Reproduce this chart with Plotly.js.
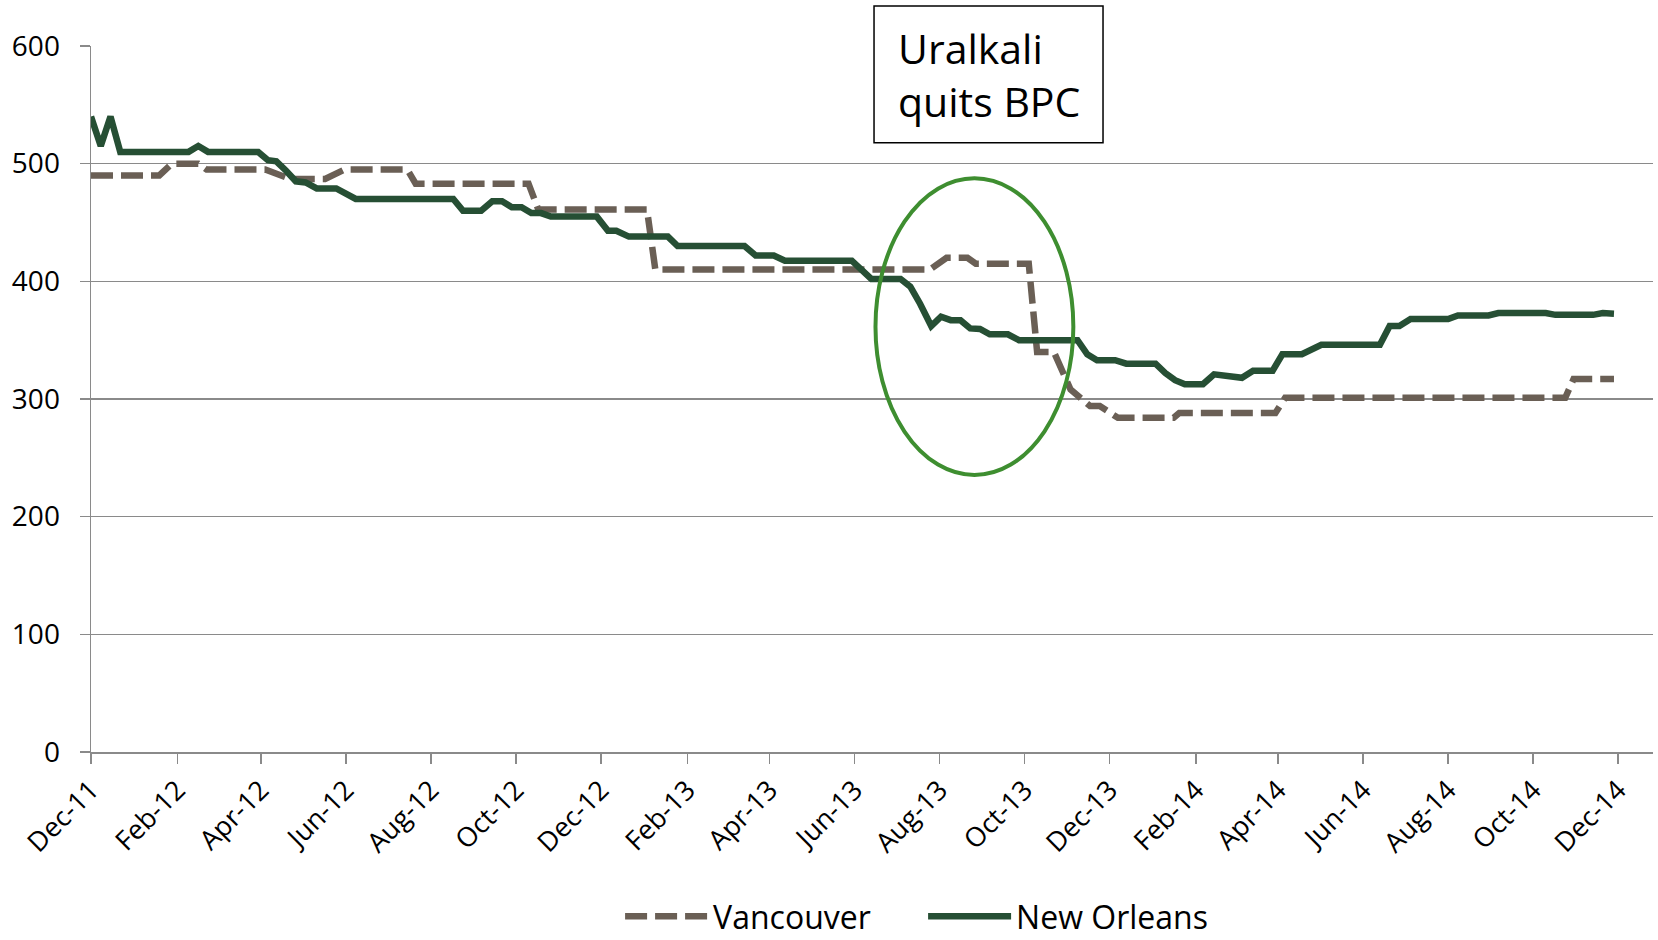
<!DOCTYPE html>
<html>
<head>
<meta charset="utf-8">
<script src="https://cdn.plot.ly/plotly-3.0.1.min.js"></script>
<style>
  html, body { margin: 0; padding: 0; background: #ffffff; }
  #chart { width: 1658px; height: 940px; }
</style>
</head>
<body>
<div id="chart"></div>
<script>
// ---- Data ----
const seriesNames = ["Vancouver", "New Orleans"];

const vancouverDates = [
  "2011-12-01", "2012-01-19", "2012-01-28", "2012-02-16", "2012-02-22",
  "2012-04-04", "2012-04-22", "2012-05-17", "2012-05-31", "2012-07-15",
  "2012-07-21", "2012-10-10", "2012-10-17", "2013-01-03", "2013-01-09",
  "2013-07-25", "2013-08-06", "2013-08-21", "2013-08-27", "2013-10-04",
  "2013-10-10", "2013-10-22", "2013-11-03", "2013-11-17", "2013-11-24",
  "2013-12-07", "2014-01-16", "2014-01-20", "2014-03-30", "2014-04-06",
  "2014-10-24", "2014-10-30", "2014-11-28"
];
const vancouverValues = [
  490, 490, 500, 500, 495,
  495, 487, 487, 495, 495,
  483, 483, 461, 461, 410,
  410, 420, 420, 415, 415,
  340, 340, 308, 294, 294,
  284, 284, 288, 288, 301,
  301, 317, 317
];

const newOrleansDates = [
  "2011-12-01", "2011-12-08", "2011-12-15", "2011-12-22", "2012-02-09",
  "2012-02-16", "2012-02-23", "2012-03-30", "2012-04-06", "2012-04-12",
  "2012-04-19", "2012-04-26", "2012-05-03", "2012-05-11", "2012-05-25",
  "2012-06-08", "2012-08-17", "2012-08-24", "2012-09-06", "2012-09-14",
  "2012-09-21", "2012-09-28", "2012-10-05", "2012-10-12", "2012-10-19",
  "2012-10-26", "2012-11-28", "2012-12-06", "2012-12-12", "2012-12-21",
  "2013-01-18", "2013-01-25", "2013-03-14", "2013-03-22", "2013-04-04",
  "2013-04-12", "2013-05-30", "2013-06-13", "2013-07-04", "2013-07-11",
  "2013-07-18", "2013-07-26", "2013-08-02", "2013-08-09", "2013-08-16",
  "2013-08-23", "2013-08-30", "2013-09-06", "2013-09-19", "2013-09-27",
  "2013-11-08", "2013-11-15", "2013-11-22", "2013-12-05", "2013-12-13",
  "2014-01-03", "2014-01-10", "2014-01-17", "2014-01-24", "2014-02-06",
  "2014-02-14", "2014-03-06", "2014-03-14", "2014-03-28", "2014-04-04",
  "2014-04-18", "2014-05-02", "2014-06-13", "2014-06-20", "2014-06-27",
  "2014-07-05", "2014-08-01", "2014-08-08", "2014-08-30", "2014-09-06",
  "2014-10-10", "2014-10-17", "2014-11-13", "2014-11-20", "2014-11-28"
];
const newOrleansValues = [
  540, 515, 540, 510, 510,
  515, 510, 510, 503, 502,
  494, 485, 484, 479, 479,
  470, 470, 460, 460, 468,
  468, 463, 463, 458, 458,
  455, 455, 443, 443, 438,
  438, 430, 430, 422, 422,
  417.5, 417.5, 402, 402, 395.5,
  381, 362, 370, 367, 367,
  360, 359.5, 355, 355, 350,
  350, 338, 333, 333, 330,
  330, 322, 316, 312.5, 312.5,
  321, 318, 324, 324, 338,
  338, 346, 346, 362, 362,
  368, 368, 371, 371, 373,
  373, 371.5, 371.5, 373, 372.5
];

const yTickValues = [0, 100, 200, 300, 400, 500, 600];
const annotationText = "Uralkali<br>quits BPC";
const highlightPeriod = ["2013-06-16", "2013-11-05"];
const highlightValues = [235.4, 487.6];

// ---- Styles ----
const FONT = "'Open Sans', 'Liberation Sans', sans-serif";
const GRID = "#8a8a8a";

const traces = [
  {
    type: "scatter", mode: "lines", name: seriesNames[0],
    x: vancouverDates, y: vancouverValues,
    line: { color: "#6a5f55", width: 6.5, dash: "22px,8px" },
    hoverinfo: "skip"
  },
  {
    type: "scatter", mode: "lines", name: seriesNames[1],
    x: newOrleansDates, y: newOrleansValues,
    line: { color: "#264f34", width: 6.5 },
    hoverinfo: "skip"
  }
];

const layout = {
  width: 1658, height: 940,
  margin: { l: 91, r: 5, t: 46, b: 188, pad: 0, autoexpand: false },
  paper_bgcolor: "#ffffff", plot_bgcolor: "#ffffff",
  font: { family: FONT, color: "#000000" },
  showlegend: true,
  legend: {
    orientation: "h", xref: "container", yref: "container",
    x: 0.374, xanchor: "left", y: 0.025, yanchor: "middle",
    font: { family: FONT, size: 32, color: "#000000" },
    itemwidth: 83, entrywidth: 205, entrywidthmode: "pixels",
    traceorder: "normal", bgcolor: "rgba(0,0,0,0)"
  },
  xaxis: {
    type: "date",
    range: ["2011-12-01", "2014-12-26"],
    tick0: "2011-12-01", dtick: "M2", tickformat: "%b-%y",
    tickangle: -45, automargin: false,
    ticks: "outside", ticklen: 10, tickwidth: 1.5, tickcolor: GRID,
    showline: true, linecolor: GRID, linewidth: 1.5,
    showgrid: false, zeroline: false,
    tickfont: { family: FONT, size: 27, color: "#000000" },
    fixedrange: true
  },
  yaxis: {
    range: [0, 600], automargin: false,
    tickvals: yTickValues,
    ticks: "outside", ticklen: 10, tickwidth: 1.5, tickcolor: GRID,
    showline: true, linecolor: GRID, linewidth: 1.5,
    showgrid: true, gridcolor: GRID, gridwidth: 1.5,
    zeroline: false,
    ticklabelstandoff: 14,
    tickfont: { family: FONT, size: 28, color: "#000000" },
    fixedrange: true
  },
  shapes: [
    {
      type: "circle", xref: "x", yref: "y",
      x0: highlightPeriod[0], x1: highlightPeriod[1],
      y0: highlightValues[0], y1: highlightValues[1],
      line: { color: "#3e8e30", width: 4 }, fillcolor: "rgba(0,0,0,0)",
      layer: "above"
    },
    {
      type: "rect", xref: "paper", yref: "paper",
      x0: 0.5013, x1: 0.6479, y0: 0.863, y1: 1.0567,
      line: { color: "#000000", width: 1.5 }, fillcolor: "#ffffff",
      layer: "above"
    }
  ],
  annotations: [
    {
      xref: "paper", yref: "paper", x: 0.5154, y: 0.9597,
      xanchor: "left", yanchor: "middle", align: "left",
      text: annotationText, showarrow: false,
      font: { family: FONT, size: 41, color: "#000000" }
    }
  ]
};

Plotly.newPlot("chart", traces, layout, { displayModeBar: false, staticPlot: true });
</script>
</body>
</html>
